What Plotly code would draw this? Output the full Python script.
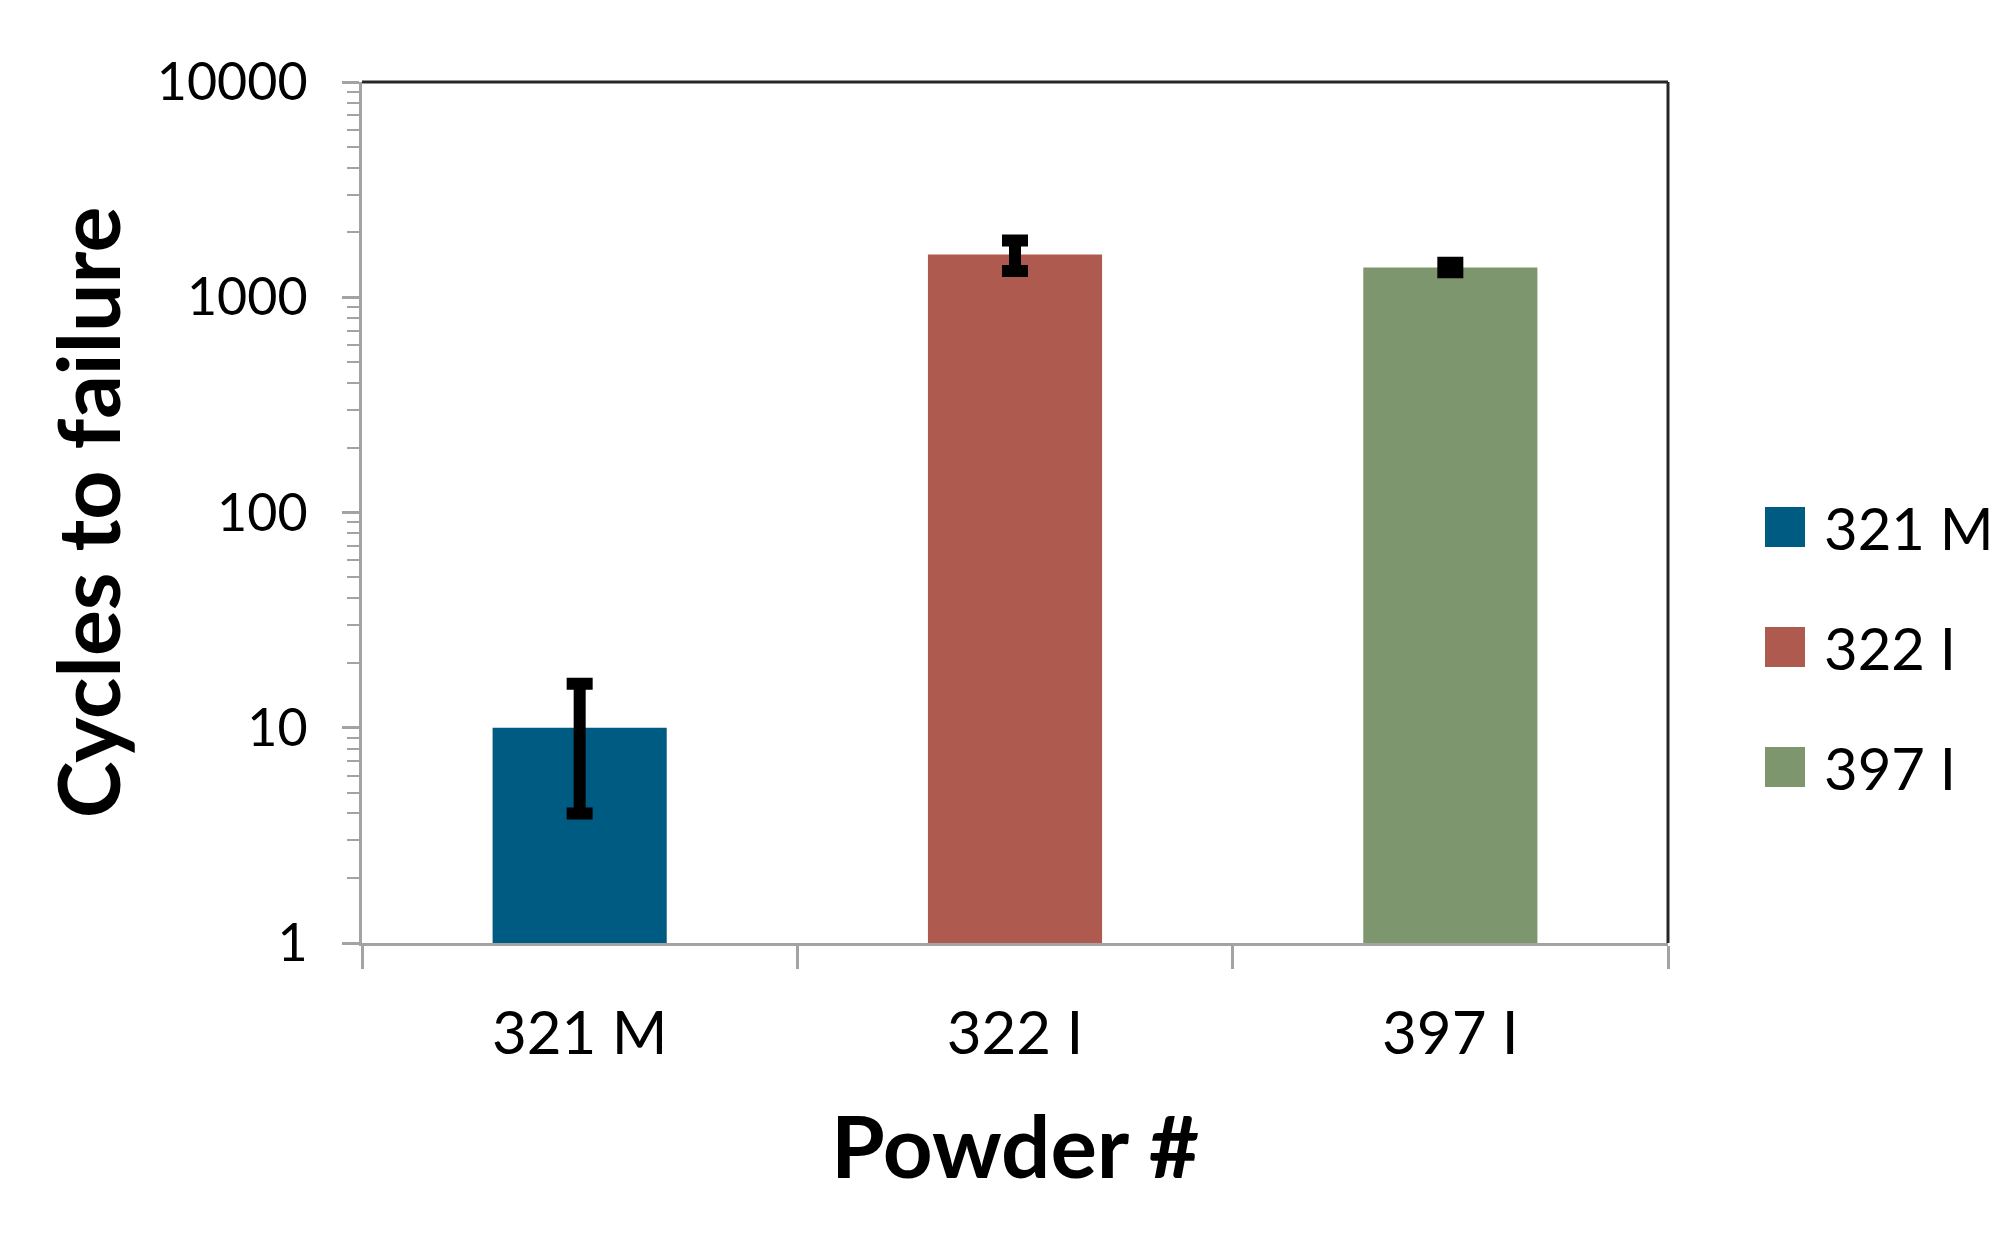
import plotly.graph_objects as go

# Data
CATEGORIES = ["321 M", "322 I", "397 I"]
CYCLES = [10, 1580, 1375]
CYCLES_ERR = [6, 255, 70]
COLORS = ["#005b82", "#ae5a4f", "#7e966d"]
Y_TICKS = [1, 10, 100, 1000, 10000]
Y_TICK_LABELS = ["1", "10", "100", "1000", "10000"]

W, H = 2010, 1253
# page body adds an 8 px offset, so margins are shifted by that much
OFF = 8
PLOT_L, PLOT_R, PLOT_T, PLOT_B = 362 - OFF, 1668 - OFF, 82 - OFF, 943 - OFF
FONT = "Lato"
AXIS_GREY = "#a3a3a3"


def paper_x(px):
    return (px - OFF - PLOT_L) / (PLOT_R - PLOT_L)


def paper_y(py):
    return (PLOT_B - (py - OFF)) / (PLOT_B - PLOT_T)


fig = go.Figure()
for cat, val, err, col in zip(CATEGORIES, CYCLES, CYCLES_ERR, COLORS):
    fig.add_trace(go.Bar(
        x=[cat], y=[val], name=cat, width=0.4,
        marker={"color": col, "line": {"width": 0}},
        error_y={"type": "data", "array": [err], "color": "black",
                 "thickness": 12, "width": 13},
        showlegend=False,
    ))

minor_vals = [m * d for d in Y_TICKS[:-1] for m in range(2, 10)]

fig.update_layout(
    width=W, height=H,
    margin={"l": PLOT_L, "r": W - PLOT_R, "t": PLOT_T, "b": H - PLOT_B},
    paper_bgcolor="white", plot_bgcolor="white",
    barmode="overlay",
    font={"family": FONT, "color": "black"},
    xaxis={
        "showline": True, "linecolor": AXIS_GREY, "linewidth": 3,
        "ticks": "outside", "tickson": "boundaries", "ticklen": 23,
        "tickwidth": 3, "tickcolor": AXIS_GREY,
        "tickfont": {"size": 60, "family": FONT},
        "ticklabelstandoff": 36,
        "showgrid": False,
        "title": {"text": "Powder #", "standoff": 52,
                  "font": {"size": 87, "family": FONT, "weight": "bold"}},
    },
    yaxis={
        "type": "log", "range": [0, 4],
        "tickmode": "array", "tickvals": Y_TICKS, "ticktext": Y_TICK_LABELS,
        "showline": True, "linecolor": AXIS_GREY, "linewidth": 3,
        "ticks": "outside", "ticklen": 17, "tickwidth": 3,
        "tickcolor": AXIS_GREY,
        "tickfont": {"size": 52, "family": FONT},
        "ticklabelstandoff": 24,
        "showgrid": False, "zeroline": False,
        "minor": {"tickmode": "array", "tickvals": minor_vals,
                  "ticks": "outside", "ticklen": 12, "tickwidth": 2,
                  "tickcolor": AXIS_GREY, "showgrid": False},
        "title": {"text": "Cycles to failure", "standoff": 8,
                  "font": {"size": 86, "family": FONT, "weight": "bold"}},
    },
)

# dark plot-area border on top and right
fig.add_shape(type="line", xref="paper", yref="paper", x0=0, x1=1, y0=1, y1=1,
              line={"color": "#262626", "width": 3}, layer="above")
fig.add_shape(type="line", xref="paper", yref="paper", x0=1, x1=1, y0=0, y1=1,
              line={"color": "#262626", "width": 3}, layer="above")

# legend drawn by hand so the keys can be as large as in the reference
LEG_KEY_X0, LEG_KEY_SIZE, LEG_TEXT_X = 1765, 40, 1822
LEG_Y0, LEG_STEP = 527, 120
for i, (cat, col) in enumerate(zip(CATEGORIES, COLORS)):
    cy = LEG_Y0 + i * LEG_STEP
    fig.add_shape(type="rect", xref="paper", yref="paper",
                  x0=paper_x(LEG_KEY_X0), x1=paper_x(LEG_KEY_X0 + LEG_KEY_SIZE),
                  y0=paper_y(cy + LEG_KEY_SIZE / 2), y1=paper_y(cy - LEG_KEY_SIZE / 2),
                  fillcolor=col, line={"width": 0})
    fig.add_annotation(xref="paper", yref="paper", x=paper_x(LEG_TEXT_X),
                       y=paper_y(cy), text=cat, showarrow=False,
                       xanchor="left", yanchor="middle",
                       font={"size": 58, "family": FONT, "color": "black"})

fig.write_html("out.html")
